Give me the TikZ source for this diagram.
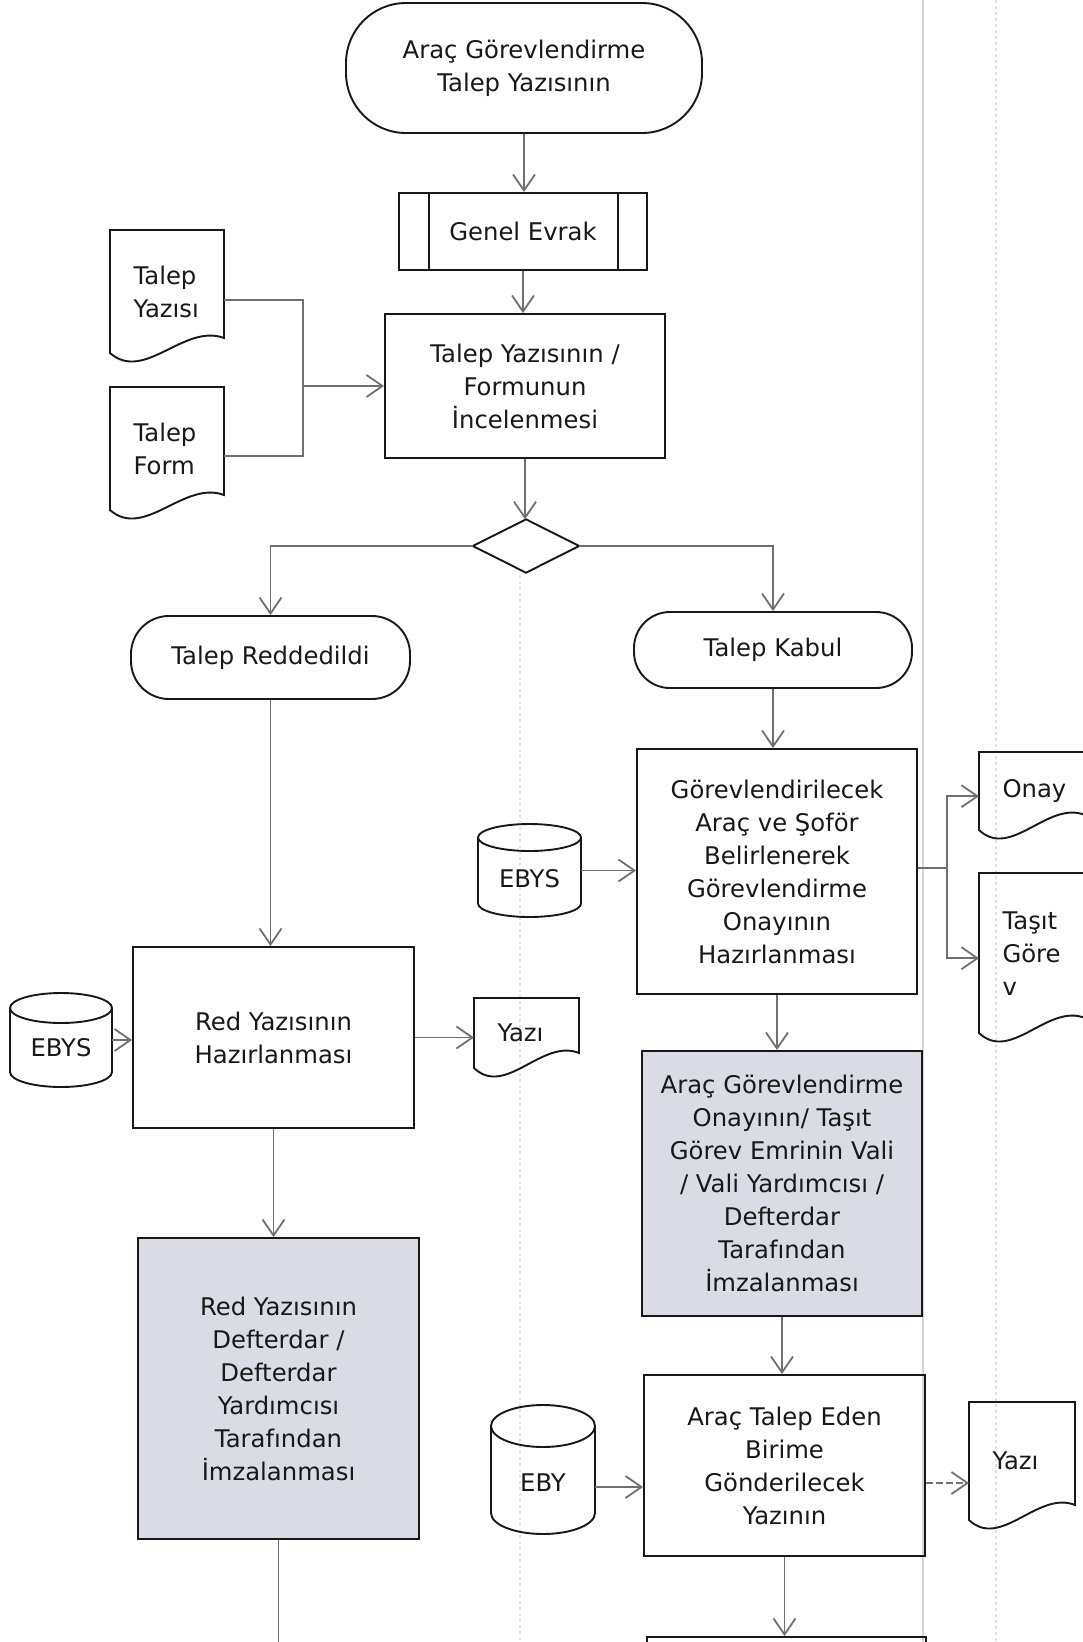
\documentclass[tikz,border=0pt]{standalone}
\usepackage{fontspec}
\setmainfont{DejaVu Sans}
\usetikzlibrary{arrows.meta}

\definecolor{ink}{RGB}{24,24,24}
\definecolor{conn}{RGB}{112,112,116}
\definecolor{sigfill}{RGB}{218,219,228}
\definecolor{faintc}{RGB}{214,214,218}

\tikzset{
  every node/.style={font=\fontsize{24.3pt}{33pt}\selectfont, text=ink},
  shp/.style={draw=ink, line width=1.9pt},
  procbox/.style={shp, rectangle, align=center, inner sep=0pt},
  sigbox/.style={procbox, fill=sigfill},
  hold/.style={rectangle, inner sep=0pt, draw=none},
  flow/.style={draw=conn, line width=1.8pt, -{Straight Barb[length=16pt,width=22pt]}},
  link/.style={draw=conn, line width=1.8pt},
  faintline/.style={draw=faintc, line width=1.1pt},
}

% document symbol: name, x0, y0, w, h(left bottom), text
\newcommand\docshape[6]{%
  \node[hold, anchor=north west, minimum width=#4pt, minimum height=#5pt] (#1) at (#2,#3) {};
  \draw[shp, line join=miter] (#2,#3+#5) -- (#2,#3) -- (#2+#4,#3) -- (#2+#4,#3+#5-15)
     .. controls (#2+0.65*#4,#3+#5-30) and (#2+0.3*#4,#3+#5+30) .. (#2,#3+#5) -- cycle;
  \node[anchor=west, align=left] (#1t) at ([xshift=20pt]#1.west) {#6};
}
% cylinder: name, cx, cy, w, h, ry
\newcommand\cylshape[6]{%
  \node[hold, minimum width=#4pt, minimum height=#5pt] (#1) at (#2,#3) {};
  \draw[shp] (#2,#3-#5/2+#6) ellipse [x radius=#4/2, y radius=#6];
  \draw[shp] (#2-#4/2,#3-#5/2+#6) -- (#2-#4/2,#3+#5/2-#6)
     .. controls (#2-#4/2,#3+#5/2-0.448*#6) and (#2-0.276*#4,#3+#5/2) .. (#2,#3+#5/2)
     .. controls (#2+0.276*#4,#3+#5/2) and (#2+#4/2,#3+#5/2-0.448*#6) .. (#2+#4/2,#3+#5/2-#6)
     -- (#2+#4/2,#3-#5/2+#6);
}

\begin{document}
\begin{tikzpicture}[x=1pt,y=-1pt]
\useasboundingbox (0,0) rectangle (1083,1642);
\fill[white] (0,0) rectangle (1083,1642);
\clip (0,0) rectangle (1083,1642);

% faint scan lines
\draw[faintline] (923,0) -- (923,1642);
\draw[faintline, dashed, draw opacity=0.7] (996,0) -- (996,1642);
\draw[faintline, dashed, draw opacity=0.7] (520,575) -- (520,1642);

% ---- main column ----
\node[procbox, rounded corners=60pt, minimum width=356pt, minimum height=130pt] (top) at (524,68)
  {Araç Görevlendirme\\Talep Yazısının};
\node[procbox, minimum width=248pt, minimum height=77pt] (genel) at (523,231.5) {Genel Evrak};
\draw[shp] ([xshift=31pt]genel.north west) -- ([xshift=31pt]genel.south west);
\draw[shp] ([xshift=-30pt]genel.north east) -- ([xshift=-30pt]genel.south east);
\node[procbox, minimum width=280pt, minimum height=144pt] (inc) at (525,386)
  {Talep Yazısının /\\Formunun\\İncelenmesi};
\node[hold, minimum width=106pt, minimum height=53pt] (dia) at (526,546) {};
\draw[shp] (dia.north) -- (dia.east) -- (dia.south) -- (dia.west) -- cycle;

\docshape{tyaz}{110}{230}{114}{123}{Talep\\Yazısı}
\docshape{tform}{110}{387}{114}{123}{Talep\\Form}

% ---- left branch ----
\node[procbox, rounded corners=38pt, minimum width=279pt, minimum height=83pt] (rej) at (270.5,657.5) {Talep Reddedildi};
\node[procbox, minimum width=281pt, minimum height=181pt] (red) at (273.5,1037.5) {Red Yazısının\\Hazırlanması};
\cylshape{ebys1}{61}{1040}{102}{94}{15}
\node (ebys1t) at (61,1048) {EBYS};
\docshape{yaz1}{474}{998}{105}{70}{Yazı}
\node[sigbox, minimum width=281pt, minimum height=301pt] (redsig) at (278.5,1388.5)
  {Red Yazısının\\Defterdar /\\Defterdar\\Yardımcısı\\Tarafından\\İmzalanması};
\coordinate (rsend) at (278.5,1660);

% ---- right branch ----
\node[procbox, rounded corners=36pt, minimum width=278pt, minimum height=76pt] (kabul) at (773,650) {Talep Kabul};
\node[procbox, minimum width=280pt, minimum height=245pt] (gor) at (777,871.5)
  {Görevlendirilecek\\Araç ve Şoför\\Belirlenerek\\Görevlendirme\\Onayının\\Hazırlanması};
\cylshape{ebys2}{529.5}{870.5}{103}{93}{13.5}
\node (ebys2t) at (529.5,879) {EBYS};
\docshape{onay}{979}{752}{106}{78}{Onay}
\docshape{tasit}{979}{873}{106}{160}{Taşıt\\Göre\\v}
\node[sigbox, minimum width=280pt, minimum height=265pt] (gorsig) at (782,1183.5)
  {Araç Görevlendirme\\Onayının/ Taşıt\\Görev Emrinin Vali\\/ Vali Yardımcısı /\\Defterdar\\Tarafından\\İmzalanması};
\node[procbox, minimum width=281pt, minimum height=181pt] (talep) at (784.5,1465.5)
  {Araç Talep Eden\\Birime\\Gönderilecek\\Yazının};
\cylshape{eby}{543}{1469.5}{104}{129}{21}
\node (ebyt) at (543,1483) {EBY};
\docshape{yaz2}{969}{1402}{106}{118}{Yazı}
\node[procbox, minimum width=279pt, minimum height=100pt] (nextb) at (786.5,1687) {};

% ---- connectors ----
\draw[flow] (top.south) -- (top.south |- genel.north);
\draw[flow] (genel.south) -- (genel.south |- inc.north);
\draw[flow] (inc.south) -- (inc.south |- dia.north);

\coordinate (mrg) at (303,386);
\draw[link] ([yshift=-8.5pt]tyaz.east) -| (mrg);
\draw[link] ([yshift=-7pt]tform.east) -| (mrg);
\draw[flow] (mrg) -- (mrg -| inc.west);

\draw[flow] (dia.west) -| (rej.north);
\draw[flow] (dia.east) -| (kabul.north);

\draw[flow] (rej.south) -- (rej.south |- red.north);
\draw[flow] (ebys1.east) -- (ebys1.east -| red.west);
\draw[flow] (red.east) -- (red.east -| yaz1.west);
\draw[flow] (red.south) -- (red.south |- redsig.north);
\draw[link] (redsig.south) -- (rsend);

\draw[flow] (kabul.south) -- (kabul.south |- gor.north);
\draw[flow] (ebys2.east) -- (ebys2.east -| gor.west);
\coordinate (spl) at (947,868);
\draw[link] ([yshift=3.5pt]gor.east) -- (spl);
\draw[flow] (spl) |- ([yshift=-5pt]onay.west);
\draw[flow] (spl) |- ([yshift=-5pt]tasit.west);
\draw[flow] (gor.south) -- (gor.south |- gorsig.north);
\draw[flow] (gorsig.south) -- (gorsig.south |- talep.north);
\coordinate (ebyout) at ([yshift=-17.5pt]eby.east);
\draw[flow] (ebyout) -- (ebyout -| talep.west);
\coordinate (talout) at ([yshift=-17.5pt]talep.east);
\draw[flow, dash pattern=on 7pt off 3pt] (talout) -- (talout -| yaz2.west);
\draw[flow] (talep.south) -- (talep.south |- nextb.north);
\end{tikzpicture}
\end{document}
